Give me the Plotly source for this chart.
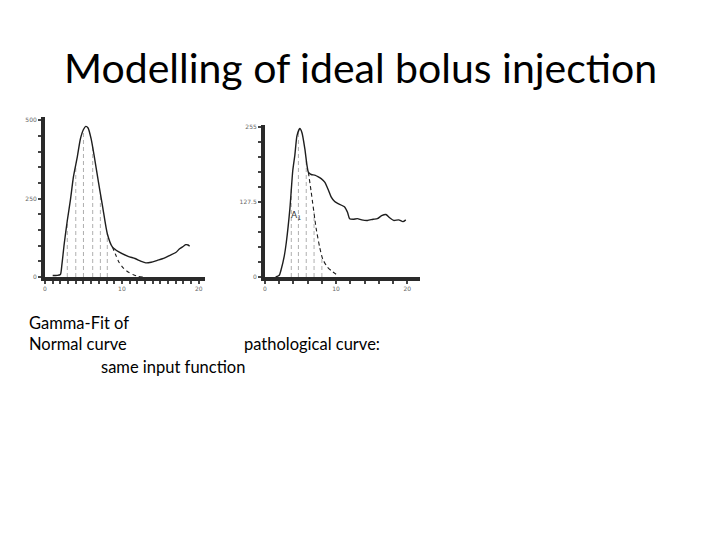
import plotly.graph_objects as go

# ---------------- data ----------------
# Left panel: normal curve
norm_x = [1.0, 1.6, 2.0, 2.2, 2.5, 2.9, 3.3, 3.7, 4.2, 4.6, 5.0, 5.3, 5.6, 6.0, 6.4, 6.7,
          7.1, 7.5, 8.1, 8.75, 9.6, 10.8, 11.7, 12.5, 13.1, 13.8, 14.6, 15.5, 16.25, 17.0,
          17.5, 18.0, 18.3, 18.6, 18.8]
norm_y = [5, 5, 8, 40, 106, 180, 245, 320, 383, 440, 470, 480, 475, 440, 385, 340,
          280, 223, 138, 96, 80, 66, 59, 50, 45, 47, 53, 60, 69, 78,
          90, 98, 103, 102, 98]
norm_fit_x = [8.75, 9.2, 9.6, 10.2, 10.8, 11.5, 12.1, 12.8]
norm_fit_y = [96, 70, 48, 28, 16, 7, 2, 0]
norm_vx = [2.9, 4.0, 5.0, 6.2, 7.2, 8.1]
norm_vy = [180, 355, 470, 415, 265, 138]

# Right panel: pathological curve
path_x = [1.5, 2.0, 2.3, 2.7, 3.0, 3.5, 3.9, 4.2, 4.5, 4.9, 5.2, 5.6, 5.9, 6.1, 6.5, 7.0,
          7.5, 7.9, 8.4, 8.9, 9.3, 9.8, 10.2, 11.2, 11.6, 11.9, 12.4, 13.0, 13.6, 14.4,
          15.2, 15.8, 16.4, 17.0, 17.5, 18.1, 18.8, 19.4, 19.8]
path_y = [0, 3, 14, 35, 59, 116, 180, 207, 240, 252, 245, 218, 190, 178, 174, 173,
          170, 167, 161, 148, 136, 128, 125, 119, 110, 99, 98, 99, 97, 96,
          98, 99, 104, 106, 101, 96, 97, 94, 97]
path_fit_x = [6.1, 6.5, 7.2, 7.7, 8.1, 8.7, 9.3, 10.2]
path_fit_y = [178, 144, 82, 50, 31, 18, 11, 3]
path_vx = [3.7, 4.7, 5.8, 6.9, 8.0]
path_vy = [150, 250, 200, 110, 35]

# tick labels
left_xticks = [0, 10, 20]
left_xtext = ["0", "10", "20"]
left_yticks = [0, 250, 500]
left_ytext = ["0", "250", "500"]
right_xticks = [0, 10, 20]
right_xtext = ["0", "10", "20"]
right_yticks = [0, 127.5, 255]
right_ytext = ["0", "127.5", "255"]

title = "Modelling of ideal bolus injection"
body_lines = ["Gamma-Fit of", "Normal curve", "pathological curve:", "same input function"]


def vlines(xs, ys):
    vx, vy = [], []
    for a, b in zip(xs, ys):
        vx += [a, a, None]
        vy += [0, b, None]
    return vx, vy


fig = go.Figure()
LINE = dict(color="#1e1e1e", width=1.4, shape="spline", smoothing=0.6)
FIT = dict(color="#1e1e1e", width=1.1, dash="4px,3px", shape="spline", smoothing=0.6)
VL = dict(color="#9a9a9a", width=0.8, dash="4px,3px")

vx, vy = vlines(norm_vx, norm_vy)
fig.add_trace(go.Scatter(x=vx, y=vy, mode="lines", line=VL, xaxis="x", yaxis="y", hoverinfo="skip"))
fig.add_trace(go.Scatter(x=norm_x, y=norm_y, mode="lines", line=LINE, xaxis="x", yaxis="y", hoverinfo="skip"))
fig.add_trace(go.Scatter(x=norm_fit_x, y=norm_fit_y, mode="lines", line=FIT, xaxis="x", yaxis="y", hoverinfo="skip"))

vx, vy = vlines(path_vx, path_vy)
fig.add_trace(go.Scatter(x=vx, y=vy, mode="lines", line=VL, xaxis="x2", yaxis="y2", hoverinfo="skip"))
fig.add_trace(go.Scatter(x=path_x, y=path_y, mode="lines", line=LINE, xaxis="x2", yaxis="y2", hoverinfo="skip"))
fig.add_trace(go.Scatter(x=path_fit_x, y=path_fit_y, mode="lines", line=FIT, xaxis="x2", yaxis="y2", hoverinfo="skip"))

AX = dict(showgrid=False, zeroline=False, showline=True, linecolor="#2a2a2a", linewidth=4,
          ticks="outside", ticklen=3, tickwidth=2, tickcolor="#444",
          tickfont=dict(size=6, color="#666666", family="DejaVu Sans"), fixedrange=True,
          tickmode="array")
MINOR = dict(ticks="outside", ticklen=3, tickwidth=2, tickcolor="#444", tick0=0)

H = 540.0
W = 720.0
fig.update_layout(
    width=720, height=540, margin=dict(l=0, r=0, t=0, b=0, autoexpand=False),
    paper_bgcolor="white", plot_bgcolor="white", showlegend=False,
    xaxis=dict(AX, domain=[45 / W, 205 / W], range=[0, 20.8],
               tickvals=left_xticks, ticktext=left_xtext, anchor="y",
               minor=dict(MINOR, dtick=1)),
    yaxis=dict(AX, domain=[(H - 277) / H, (H - 117) / H], range=[0, 510],
               tickvals=left_yticks, ticktext=left_ytext, anchor="x",
               minor=dict(MINOR, dtick=50)),
    xaxis2=dict(AX, domain=[265 / W, 420 / W], range=[0, 21.8],
                tickvals=right_xticks, ticktext=right_xtext, anchor="y2",
                minor=dict(MINOR, dtick=2)),
    yaxis2=dict(AX, domain=[(H - 277) / H, (H - 125) / H], range=[0, 258],
                tickvals=right_yticks, ticktext=right_ytext, anchor="x2",
                minor=dict(MINOR, dtick=25.5)),
)

fig.add_annotation(x=4.4, y=105, xref="x2", yref="y2", text="A<sub>1</sub>", showarrow=False,
                   font=dict(size=9, color="#333", family="DejaVu Sans"))

fig.add_annotation(x=0.5, y=(H - 68) / H, xref="paper", yref="paper", text=title, showarrow=False,
                   xanchor="center", yanchor="middle", font=dict(size=41, color="black", family="Lato"))

BF = dict(size=16.5, color="black", family="Lato")
fig.add_annotation(x=27 / W, y=(H - 323) / H, xref="paper", yref="paper", text=body_lines[0],
                   showarrow=False, xanchor="left", yanchor="middle", font=BF)
fig.add_annotation(x=27 / W, y=(H - 344) / H, xref="paper", yref="paper", text=body_lines[1],
                   showarrow=False, xanchor="left", yanchor="middle", font=BF)
fig.add_annotation(x=242 / W, y=(H - 344) / H, xref="paper", yref="paper", text=body_lines[2],
                   showarrow=False, xanchor="left", yanchor="middle", font=BF)
fig.add_annotation(x=99 / W, y=(H - 367) / H, xref="paper", yref="paper", text=body_lines[3],
                   showarrow=False, xanchor="left", yanchor="middle", font=BF)

fig.write_html("out.html", config={"displayModeBar": False},
               post_script="document.body.style.margin='0';")
